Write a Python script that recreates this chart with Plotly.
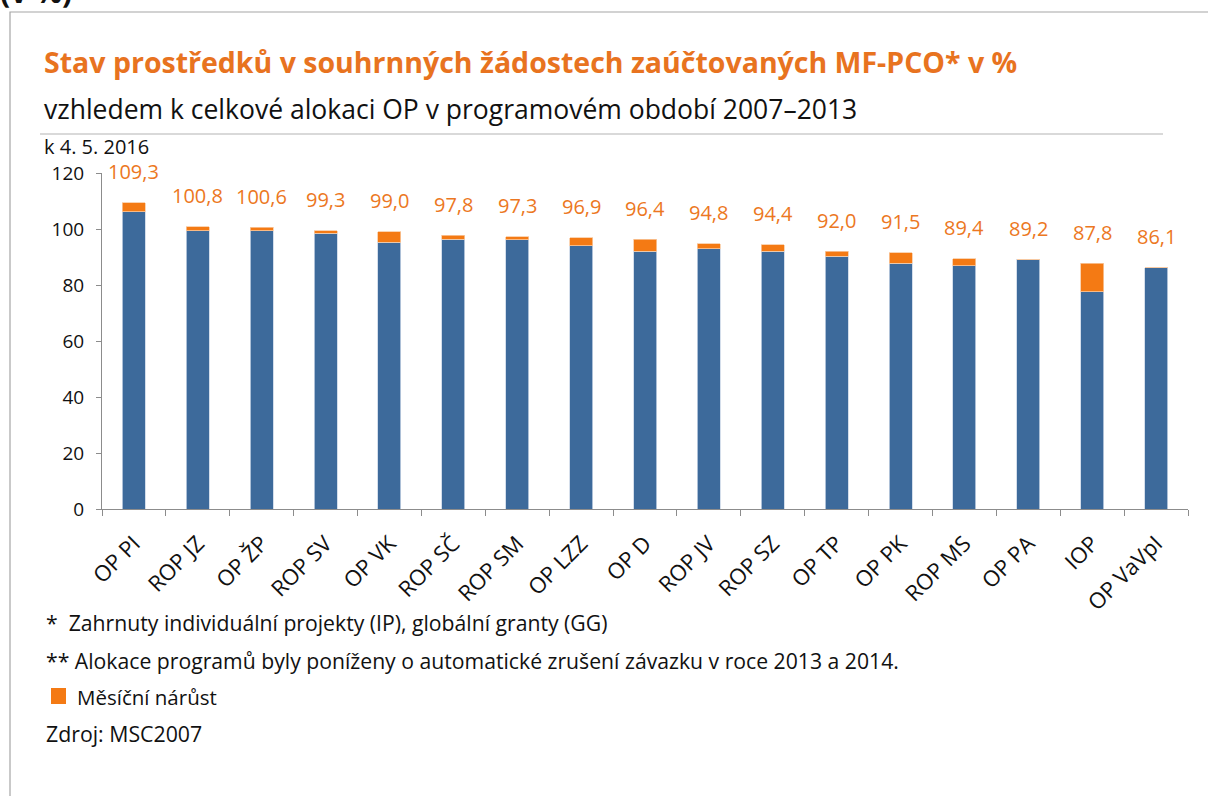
import plotly.graph_objects as go

kategorie = ["OP PI", "ROP JZ", "OP ŽP", "ROP SV", "OP VK", "ROP SČ", "ROP SM", "OP LZZ", "OP D",
             "ROP JV", "ROP SZ", "OP TP", "OP PK", "ROP MS", "OP PA", "IOP", "OP VaVpI"]
celkem = [109.3, 100.8, 100.6, 99.3, 99.0, 97.8, 97.3, 96.9, 96.4, 94.8, 94.4, 92.0, 91.5, 89.4, 89.2, 87.8, 86.1]
narust = [3.1, 1.4, 1.2, 0.9, 3.8, 1.4, 1.2, 2.9, 4.4, 1.8, 2.4, 1.8, 3.8, 2.5, 0.0, 10.2, 0.0]
zaklad = [106.2, 99.4, 99.4, 98.4, 95.2, 96.4, 96.1, 94.0, 92.0, 93.0, 92.0, 90.2, 87.7, 86.9, 89.2, 77.6, 86.1]
y_ticks = [0, 20, 40, 60, 80, 100, 120]

BLUE = "#3d6a9b"
ORANGE = "#f47a14"
TXT_OR = "#ec7722"
FONT = "Open Sans"

W, H = 1208, 796
L, R, T, B = 102, 1188, 173, 509


def px(x):
    return (x - L) / (R - L)


def py(y):
    return (B - y) / (B - T)


fig = go.Figure()
fig.add_trace(go.Bar(x=kategorie, y=zaklad, marker=dict(color=BLUE, line=dict(color="#c9d6e6", width=0.8)),
                     showlegend=False, name="Stav"))
fig.add_trace(go.Bar(x=kategorie, y=narust, marker=dict(color=ORANGE, line=dict(color="#f9c9a0", width=0.8)),
                     showlegend=False, name="Měsíční nárůst"))

ann = []
for k, v in zip(kategorie, celkem):
    ann.append(dict(x=k, y=v, xref="x", yref="y", text=f"{v:.1f}".replace(".", ","),
                    showarrow=False, yanchor="middle", yshift=31,
                    font=dict(family=FONT, size=20, color=TXT_OR)))


def txt(x, y, s, size, color="#111111"):
    return dict(x=px(x), y=py(y), xref="paper", yref="paper", xanchor="left", yanchor="middle",
                showarrow=False, text=s, font=dict(family=FONT, size=size, color=color))


ann += [
    txt(42, 62, "<b>Stav prostředků v souhrnných žádostech zaúčtovaných MF-PCO* v %</b>", 28.5, "#e8731f"),
    txt(42, 109, "vzhledem k celkové alokaci OP v programovém období 2007–2013", 26.5),
    txt(42, 146, "k 4. 5. 2016", 20),
    txt(44, 622, "*  Zahrnuty individuální projekty (IP), globální granty (GG)", 21.2),
    txt(44, 660, "** Alokace programů byly poníženy o automatické zrušení závazku v roce 2013 a 2014.", 21.2),
    txt(75, 697, "Měsíční nárůst", 20.5),
    txt(44, 733, "Zdroj: MSC2007", 21.3),
    txt(-2, -8, "<b>(v %)</b>", 30),
]

shapes = [
    dict(type="rect", xref="paper", yref="paper", x0=px(10), x1=px(1230), y0=py(12), y1=py(820),
         line=dict(color="#a6a6a6", width=1.2), fillcolor="rgba(0,0,0,0)", layer="below"),
    dict(type="line", xref="paper", yref="paper", x0=px(40), x1=px(1163), y0=py(134), y1=py(134),
         line=dict(color="#d9d9d9", width=2)),
    dict(type="rect", xref="paper", yref="paper", x0=px(51), x1=px(66), y0=py(688), y1=py(704),
         line=dict(width=0), fillcolor=ORANGE),
]

fig.update_layout(
    barmode="stack", bargap=0.64,
    width=W, height=H,
    margin=dict(l=L, r=W - R, t=T, b=H - B, pad=0),
    paper_bgcolor="white", plot_bgcolor="white",
    annotations=ann, shapes=shapes,
    font=dict(family=FONT, color="#111111"),
)
fig.update_yaxes(range=[0, 120], tickvals=y_ticks, showgrid=False, zeroline=False,
                 showline=True, linecolor="#8c8c8c", linewidth=1, ticks="outside", ticklen=5,
                 tickcolor="#8c8c8c", tickfont=dict(family=FONT, size=19, color="#111111"),
                 ticklabelstandoff=8)
fig.update_xaxes(showgrid=False, showline=True, linecolor="#8c8c8c", linewidth=1, ticks="outside",
                 ticklen=6, tickcolor="#8c8c8c", tickson="boundaries", tickangle=-45,
                 tickfont=dict(family=FONT, size=22, color="#111111"), ticklabelstandoff=12)

fig.write_html("out.html", config={"displayModeBar": False},
               post_script="document.body.style.margin='0';document.body.style.overflow='hidden';")
